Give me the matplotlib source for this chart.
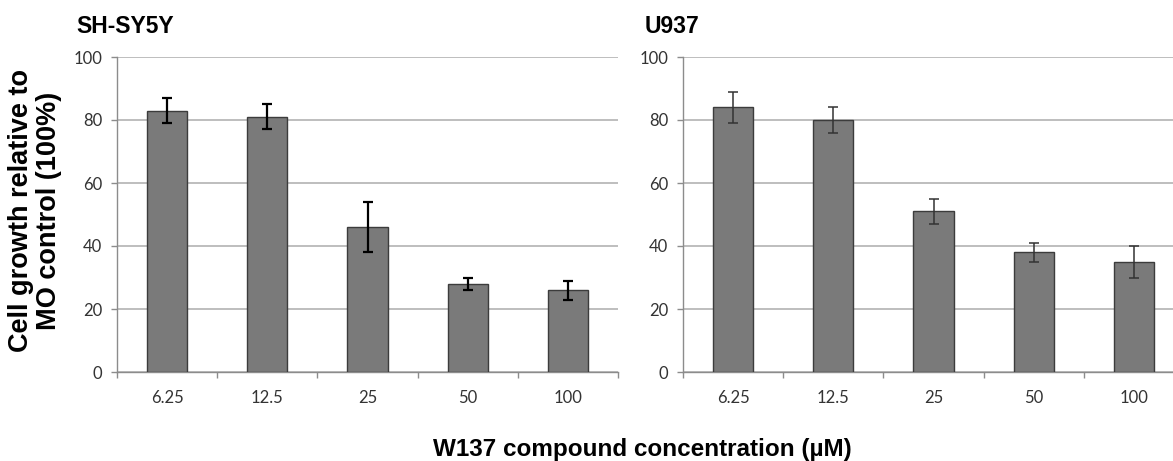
import numpy as np
import matplotlib.pyplot as plt

# W137 dose response, two cell lines
concentrations = ['6.25', '12.5', '25', '50', '100']
shsy5y_growth = [83, 81, 46, 28, 26]
shsy5y_err = [4, 4, 8, 2, 3]
u937_growth = [84, 80, 51, 38, 35]
u937_err = [5, 4, 4, 3, 5]

W, H = 1173, 461
fig = plt.figure(figsize=(W / 100, H / 100), dpi=100)

bold_font = 'Liberation Sans'
tick_font = 'Lato'


def draw_panel(ax, values, errs, err_color, err_lw):
    x = np.arange(len(values))
    ax.bar(x, values, width=0.4, color='#7a7a7a', edgecolor='#3c3c3c',
           linewidth=1.0, zorder=3)
    ax.errorbar(x, values, yerr=errs, fmt='none', ecolor=err_color,
                elinewidth=err_lw, capsize=3.3, capthick=err_lw, zorder=4)
    ax.set_xlim(-0.5, len(values) - 0.5)
    ax.set_ylim(0, 100)
    ax.set_yticks([0, 20, 40, 60, 80, 100])
    ax.set_xticks(x)
    ax.set_xticklabels(concentrations)
    # category boundary ticks like a spreadsheet chart
    ax.set_xticks(np.arange(len(values) + 1) - 0.5, minor=True)
    ax.tick_params(axis='x', which='major', length=0, pad=13)
    ax.tick_params(axis='x', which='minor', length=4.5, width=1, color='#8c8c8c')
    ax.tick_params(axis='y', length=4.5, width=1, color='#8c8c8c', pad=6)
    for lab in ax.get_xticklabels() + ax.get_yticklabels():
        lab.set_fontfamily(tick_font)
        lab.set_fontsize(12)
        lab.set_color('#333333')
    ax.grid(axis='y', color='#b3b3b3', linewidth=1.2, zorder=0)
    ax.set_axisbelow(True)
    for side in ['top', 'right']:
        ax.spines[side].set_visible(False)
    for side in ['left', 'bottom']:
        ax.spines[side].set_color('#8c8c8c')
        ax.spines[side].set_linewidth(1.0)
    ax.set_facecolor('white')


bottom = (H - 372) / H
height = (372 - 57) / H
ax1 = fig.add_axes([117 / W, bottom, 501 / W, height])
ax2 = fig.add_axes([683 / W, bottom, 501 / W, height])

draw_panel(ax1, shsy5y_growth, shsy5y_err, 'black', 1.6)
draw_panel(ax2, u937_growth, u937_err, '#333333', 1.1)

fig.text(76 / W, 1 - 33 / H, 'SH-SY5Y', family=bold_font, weight='bold',
         fontsize=16.5, va='baseline', ha='left')
fig.text(645 / W, 1 - 33 / H, 'U937', family=bold_font, weight='bold',
         fontsize=16.5, va='baseline', ha='left')

fig.text(35 / W, 1 - 211 / H, 'Cell growth relative to\nMO control (100%)',
         family=bold_font, weight='bold', fontsize=19.5, rotation=90,
         ha='center', va='center', multialignment='center', linespacing=1.08)

fig.text(642 / W, 5 / H, 'W137 compound concentration (\u00b5M)',
         family=bold_font, weight='bold', fontsize=17.5,
         ha='center', va='baseline')

fig.savefig('out.png', dpi=100, facecolor='white')
